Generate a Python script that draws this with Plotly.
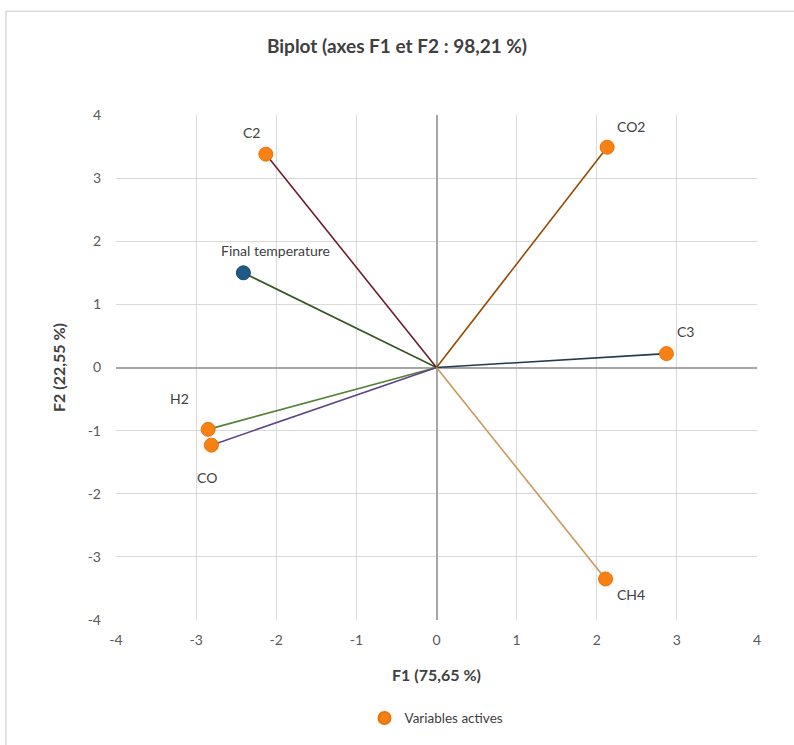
import plotly.graph_objects as go

# Data
active_names = ["C2", "CO2", "C3", "H2", "CO", "CH4"]
active_f1 = [-2.13, 2.13, 2.87, -2.85, -2.81, 2.11]
active_f2 = [3.38, 3.49, 0.22, -0.98, -1.23, -3.35]
supp_names = ["Final temperature"]
supp_f1 = [-2.41]
supp_f2 = [1.50]
tick_vals = [-4, -3, -2, -1, 0, 1, 2, 3, 4]
tick_text = ["-4", "-3", "-2", "-1", "0", "1", "2", "3", "4"]

line_colors = {
    "C2": "#6B1F2A",
    "CO2": "#954B00",
    "C3": "#1F3B4D",
    "H2": "#548235",
    "CO": "#5E4483",
    "CH4": "#C49A5C",
    "Final temperature": "#375623",
}
label_shift = {
    "C2": (-14, 22),
    "CO2": (24, 21),
    "C3": (19, 22),
    "H2": (-29, 31),
    "CO": (-4, -32),
    "CH4": (25, -16),
    "Final temperature": (32, 22),
}

FONT = "Lato, 'Open Sans', sans-serif"
fig = go.Figure()

for n, x, y in zip(supp_names + active_names, supp_f1 + active_f1, supp_f2 + active_f2):
    fig.add_trace(go.Scatter(x=[0, x], y=[0, y], mode="lines",
                             line=dict(color=line_colors[n], width=1.6),
                             showlegend=False, hoverinfo="skip"))

fig.add_trace(go.Scatter(x=supp_f1, y=supp_f2, mode="markers", name="Variables supplémentaires",
                         marker=dict(color="#1F5A85", size=14, line=dict(color="#17476B", width=1)),
                         showlegend=False))
fig.add_trace(go.Scatter(x=active_f1, y=active_f2, mode="markers", name="Variables actives",
                         marker=dict(color="#F98012", size=14, line=dict(color="#E8730A", width=1))))

for n, x, y in zip(supp_names + active_names, supp_f1 + active_f1, supp_f2 + active_f2):
    dx, dy = label_shift[n]
    fig.add_annotation(x=x, y=y, text=n, showarrow=False, xshift=dx, yshift=dy,
                       font=dict(family=FONT, size=14, color="#404040"))

fig.update_layout(
    width=794, height=745,
    margin=dict(l=116, r=37, t=115, b=124),
    paper_bgcolor="white", plot_bgcolor="white",
    font=dict(family=FONT, color="#595959", size=14),
    title=dict(text="<b>Biplot (axes F1 et F2 : 98,21 %)</b>", x=0.5, xanchor="center",
               y=1 - 46 / 745, yanchor="middle",
               font=dict(family=FONT, size=19, color="#404040")),
    legend=dict(orientation="h", x=0.5, xanchor="center", y=-0.192, yanchor="middle",
                font=dict(family=FONT, size=13.5, color="#404040"), itemsizing="constant"),
    showlegend=True,
)
fig.update_xaxes(range=[-4, 4], tickvals=tick_vals, ticktext=tick_text, showgrid=True,
                 gridcolor="#D9D9D9", gridwidth=1,
                 zeroline=True, zerolinecolor="#A6A6A6", zerolinewidth=1.5, showline=False,
                 ticks="", ticklabelstandoff=10,
                 title=dict(text="<b>F1 (75,65 %)</b>", font=dict(family=FONT, size=16, color="#404040"),
                            standoff=22),
                 tickfont=dict(size=14, color="#595959"))
fig.update_yaxes(range=[-4, 4], tickvals=tick_vals, ticktext=tick_text, showgrid=True,
                 gridcolor="#D9D9D9", gridwidth=1,
                 zeroline=True, zerolinecolor="#A6A6A6", zerolinewidth=1.5, showline=False,
                 ticks="", ticklabelstandoff=14,
                 title=dict(text="<b>F2 (22,55 %)</b>", font=dict(family=FONT, size=16, color="#404040"),
                            standoff=18),
                 tickfont=dict(size=14, color="#595959"))

# chart border
fig.add_shape(type="rect", xref="paper", yref="paper",
              x0=-(116 - 6) / 641, x1=(794 - 116 + 5) / 641,
              y0=-(745 - 621 + 5) / 506, y1=(621 - 11) / 506,
              line=dict(color="#D9D9D9", width=1.5), layer="below")

fig.write_html("out.html", config={"displayModeBar": False},
               post_script="document.body.style.margin='0';document.body.style.padding='0';")
